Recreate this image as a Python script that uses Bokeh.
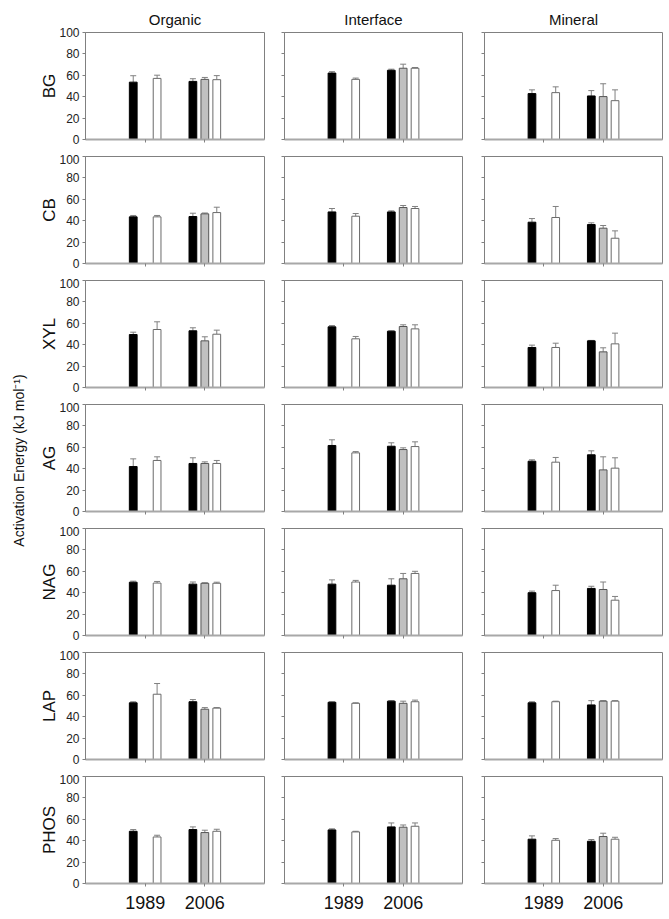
import math
from bokeh.plotting import figure
from bokeh.models import ColumnDataSource, Whisker, TeeHead, FixedTicker, Range1d, Label
from bokeh.layouts import row, column
from bokeh.embed import file_html
from bokeh.resources import INLINE

# ---------------- data ----------------
horizons = ["Organic", "Interface", "Mineral"]
enzymes = ["BG", "CB", "XYL", "AG", "NAG", "LAP", "PHOS"]
years = ["1989", "2006"]
# bar order inside every panel: (year, treatment); A = black, B = grey, C = white
bar_year = ["1989", "1989", "2006", "2006", "2006"]
bar_treat = ["A", "C", "A", "B", "C"]

# means per horizon (Organic, Interface, Mineral), bars in the order above
BG_mean = [[53.6, 57.1, 54.3, 56.2, 55.9], [62.1, 56.2, 64.7, 66.6, 66.6], [42.9, 43.8, 40.7, 40.1, 36.3]]
BG_err = [[6.0, 3.0, 2.5, 1.8, 3.8], [1.3, 1.2, 1.0, 3.8, 0.7], [3.5, 5.4, 5.0, 12.0, 10.1]]
CB_mean = [[43.6, 43.6, 43.9, 46.4, 47.6], [48.2, 44.2, 48.2, 52.3, 51.4], [38.6, 43.0, 36.4, 33.0, 23.6]]
CB_err = [[1.3, 1.3, 3.1, 0.8, 5.0], [3.2, 2.5, 1.0, 1.9, 1.9], [3.4, 10.3, 1.6, 2.5, 6.9]]
XYL_mean = [[49.5, 54.2, 53.0, 43.6, 49.8], [56.7, 45.5, 52.6, 57.0, 54.8], [37.4, 37.4, 43.6, 33.3, 40.8]]
XYL_err = [[2.2, 7.2, 2.8, 3.8, 3.8], [1.2, 2.2, 0.4, 1.6, 3.8], [2.2, 4.0, 0.4, 3.8, 10.0]]
AG_mean = [[42.0, 47.7, 44.9, 44.9, 44.9], [61.7, 54.8, 61.0, 57.9, 60.7], [47.0, 46.1, 53.0, 38.9, 40.5]]
AG_err = [[7.2, 3.4, 5.3, 1.5, 2.8], [5.3, 1.2, 3.2, 1.6, 4.4], [1.3, 4.4, 3.7, 12.2, 9.7]]
NAG_mean = [[49.8, 49.0, 48.0, 48.8, 48.8], [48.0, 50.0, 47.0, 53.0, 58.0], [40.0, 42.0, 44.0, 43.0, 33.0]]
NAG_err = [[1.0, 1.5, 2.0, 0.5, 1.0], [4.0, 1.5, 6.0, 5.0, 2.0], [1.5, 5.0, 2.0, 7.0, 3.5]]
LAP_mean = [[53.0, 61.0, 54.0, 47.0, 48.0], [53.5, 52.5, 54.5, 52.5, 54.0], [53.0, 54.0, 51.0, 54.5, 54.5]]
LAP_err = [[1.0, 10.0, 2.0, 1.5, 0.5], [0.5, 0.5, 0.5, 2.0, 1.5], [1.0, 0.5, 4.0, 0.5, 0.5]]
PHOS_mean = [[48.8, 43.5, 50.4, 47.6, 48.8], [50.1, 48.2, 52.9, 52.6, 53.5], [41.4, 40.4, 39.5, 43.9, 41.4]]
PHOS_err = [[1.6, 1.6, 2.5, 2.2, 1.9], [1.0, 0.6, 3.7, 2.1, 3.1], [3.1, 1.6, 1.6, 3.1, 1.8]]

y_ticks = [0, 20, 40, 60, 80, 100]

means = {"BG": BG_mean, "CB": CB_mean, "XYL": XYL_mean, "AG": AG_mean,
         "NAG": NAG_mean, "LAP": LAP_mean, "PHOS": PHOS_mean}
errs = {"BG": BG_err, "CB": CB_err, "XYL": XYL_err, "AG": AG_err,
        "NAG": NAG_err, "LAP": LAP_err, "PHOS": PHOS_err}

# ---------------- style ----------------
FONT = "Liberation Sans"
treat_offset = {"A": -0.2, "B": 0.0, "C": 0.2}
treat_fill = {"A": "#000000", "B": "#c0c0c0", "C": "#ffffff"}
treat_line = {"A": "#000000", "B": "#555555", "C": "#6a6a6a"}
BAR_W = 0.13

col_width = [242, 200, 192]
col_left = [55, 12, 12]
col_right = [8, 10, 2]
FRAME_H = 107
ROW1_TOP = 32
LAST_BOTTOM = 34


def make_panel(ei, hi):
    enz = enzymes[ei]
    top = ROW1_TOP if ei == 0 else 2
    bottom = LAST_BOTTOM if ei == len(enzymes) - 1 else 15
    p = figure(width=col_width[hi], height=top + FRAME_H + bottom,
               x_range=Range1d(0, 3), y_range=Range1d(0, 100),
               output_backend="svg", toolbar_location=None,
               min_border_left=col_left[hi], min_border_right=col_right[hi],
               min_border_top=top, min_border_bottom=bottom)
    if ei == 0:
        p.title.text = horizons[hi]
        p.title.align = "center"
        p.title.text_font = FONT
        p.title.text_font_size = "15px"
        p.title.text_font_style = "normal"
        p.title.text_color = "#111111"
        p.title.standoff = 10
    p.xgrid.visible = False
    p.ygrid.visible = False
    p.outline_line_color = "#808080"
    p.outline_line_width = 1
    p.background_fill_color = "white"
    p.border_fill_color = "white"

    m = means[enz][hi]
    e = errs[enz][hi]
    xs = [years.index(y) + 1 + treat_offset[t] for y, t in zip(bar_year, bar_treat)]
    src = ColumnDataSource(dict(
        x=xs, top=m,
        upper=[a + b for a, b in zip(m, e)], lower=m,
        fill=[treat_fill[t] for t in bar_treat],
        line=[treat_line[t] for t in bar_treat]))
    p.vbar(x="x", top="top", bottom=0, width=BAR_W, source=src,
           fill_color="fill", line_color="line", line_width=1)
    w = Whisker(source=src, base="x", upper="upper", lower="lower",
                dimension="height", line_color="#808080", line_width=1,
                upper_head=TeeHead(size=6, line_color="#808080", line_width=1),
                lower_head=None)
    p.add_layout(w)

    # y axis
    ya = p.yaxis[0]
    ya.ticker = FixedTicker(ticks=y_ticks)
    ya.axis_line_color = "#808080"
    ya.major_tick_line_color = "#808080"
    ya.major_tick_out = 3
    ya.major_tick_in = 0
    ya.minor_tick_line_color = None
    ya.major_label_standoff = 3
    ya.major_label_text_font = FONT
    if hi == 0:
        ya.major_label_text_font_size = "12px"
        ya.major_label_text_color = "#222222"
        ya.axis_label = enz
        ya.axis_label_text_font = FONT
        ya.axis_label_text_font_size = "17px"
        ya.axis_label_text_font_style = "normal"
        ya.axis_label_text_color = "#111111"
        ya.axis_label_standoff = -3
    else:
        ya.major_label_text_font_size = "1px"
        ya.major_label_text_color = None
        ya.major_label_standoff = 0

    # x axis
    xa = p.xaxis[0]
    xa.ticker = FixedTicker(ticks=[1, 2])
    xa.major_label_overrides = {1: years[0], 2: years[1]}
    xa.axis_line_color = "#a8a8a8"
    xa.axis_line_width = 2
    xa.major_tick_line_color = "#808080"
    xa.major_tick_out = 3
    xa.major_tick_in = 0
    xa.minor_tick_line_color = None
    xa.major_label_text_font = FONT
    if ei == len(enzymes) - 1:
        xa.major_label_text_font_size = "18px"
        xa.major_label_text_color = "#111111"
        xa.major_label_standoff = 9
    else:
        xa.major_label_text_font_size = "1px"
        xa.major_label_text_color = None
        xa.major_label_standoff = 0
    return p


rows = []
for ei in range(len(enzymes)):
    rows.append(row(*[make_panel(ei, hi) for hi in range(len(horizons))]))
grid = column(*rows)

total_h = (ROW1_TOP + FRAME_H + 15) + (2 + FRAME_H + 15) * 5 + (2 + FRAME_H + LAST_BOTTOM)
lab = figure(width=30, height=total_h, x_range=Range1d(0, 1), y_range=Range1d(0, 1),
             output_backend="svg", toolbar_location=None, min_border=0)
lab.axis.visible = False
lab.grid.visible = False
lab.outline_line_color = None
lab.add_layout(Label(x=18, y=total_h - 460, x_units="screen", y_units="screen",
                     text="Activation Energy (kJ mol\u207b\u00b9)", angle=math.pi / 2,
                     text_align="center", text_baseline="middle",
                     text_font=FONT, text_font_size="14px", text_color="#111111"))

layout = row(lab, grid)
open("out.html", "w").write(file_html(layout, INLINE))
